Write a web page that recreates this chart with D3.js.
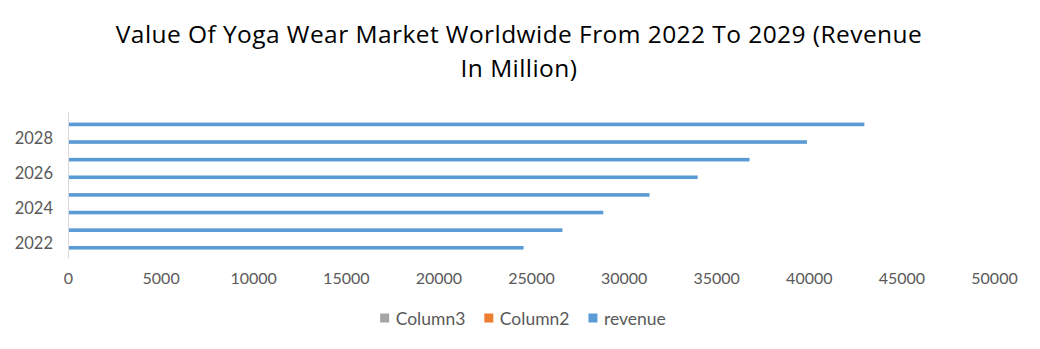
<!DOCTYPE html>
<html>
<head>
<meta charset="utf-8">
<script src="https://cdn.jsdelivr.net/npm/d3@7"></script>
<style>
  html, body { margin: 0; padding: 0; background: #fff; }
  svg { display: block; font-family: Lato, "Open Sans", sans-serif; }
</style>
</head>
<body>
<svg id="chart" width="1040" height="349"></svg>
<script>
// Yoga wear market value, revenue in million
const years = ["2022", "2023", "2024", "2025", "2026", "2027", "2028", "2029"];
const revenue = [24600, 26700, 28900, 31400, 34000, 36800, 39900, 43000];
const column2 = [null, null, null, null, null, null, null, null];
const column3 = [null, null, null, null, null, null, null, null];
const xTicks = [0, 5000, 10000, 15000, 20000, 25000, 30000, 35000, 40000, 45000, 50000];
const yLabels = ["2022", "2024", "2026", "2028"];
const titleLines = ["Value Of Yoga Wear Market Worldwide From 2022 To 2029 (Revenue", "In Million)"];

const series = [
  { name: "Column3", values: column3, color: "#a5a5a5" },
  { name: "Column2", values: column2, color: "#ed7d31" },
  { name: "revenue", values: revenue, color: "#5b9bd5" }
];

const svg = d3.select("#chart");
const plot = { left: 68, right: 994, top: 112, bottom: 253 };

const x = d3.scaleLinear().domain([0, 50000]).range([plot.left, plot.right]);
const y = d3.scaleBand().domain(years.slice().reverse()).range([plot.top, plot.bottom]);
const sub = d3.scaleBand().domain(series.map(s => s.name))
  .range([0, y.bandwidth()]).paddingInner(0).paddingOuter(0.95);

// title, spread to the full title width
const title = svg.append("text")
  .attr("text-anchor", "middle")
  .attr("fill", "#000")
  .style("font-family", "'Open Sans', sans-serif")
  .style("font-size", "24.5px");
const titleSpans = titleLines.map((t, i) =>
  title.append("tspan").attr("x", 519).attr("y", 43 + i * 34).text(t));
const natural = titleSpans[0].node().getComputedTextLength();
const spacing = (806 - natural) / (titleLines[0].length - 1);
title.style("letter-spacing", `${spacing}px`);

// bars
series.forEach(s => {
  svg.append("g").selectAll("rect")
    .data(years.map((yr, i) => ({ yr, v: s.values[i] })).filter(d => d.v != null))
    .join("rect")
    .attr("x", x(0))
    .attr("y", d => y(d.yr) + sub(s.name))
    .attr("width", d => x(d.v) - x(0))
    .attr("height", sub.bandwidth())
    .attr("fill", s.color);
});

// category axis
const yAxis = svg.append("g")
  .attr("transform", `translate(${plot.left},0)`)
  .call(d3.axisLeft(y).tickValues(yLabels).tickSize(0).tickPadding(15));
yAxis.select(".domain").attr("stroke", "#d9d9d9").attr("d", `M0.5,${plot.top}V${plot.bottom + 5}`);
yAxis.selectAll("text").attr("fill", "#595959").style("font-size", "16.5px").style("font-family", "Lato, sans-serif");

// value axis
const xAxis = svg.append("g")
  .attr("transform", `translate(0,${plot.bottom})`)
  .call(d3.axisBottom(x).tickValues(xTicks).tickFormat(d3.format("d")).tickSize(0).tickPadding(20));
xAxis.select(".domain").remove();
xAxis.selectAll("text").attr("fill", "#595959").style("font-size", "16px").style("font-family", "Lato, sans-serif");

// legend
const legend = svg.append("g");
let cx = 0;
series.forEach(s => {
  const item = legend.append("g").attr("transform", `translate(${cx},0)`);
  item.append("rect").attr("x", 0).attr("y", -5).attr("width", 9).attr("height", 9).attr("fill", s.color);
  const t = item.append("text").attr("x", 15.5).attr("y", 0).attr("dy", "0.35em")
    .attr("fill", "#595959").style("font-size", "17.5px").text(s.name);
  cx += 15.5 + t.node().getComputedTextLength() + 19;
});
const legendWidth = cx - 19;
legend.attr("transform", `translate(${523 - legendWidth / 2},318.5)`);
</script>
</body>
</html>
